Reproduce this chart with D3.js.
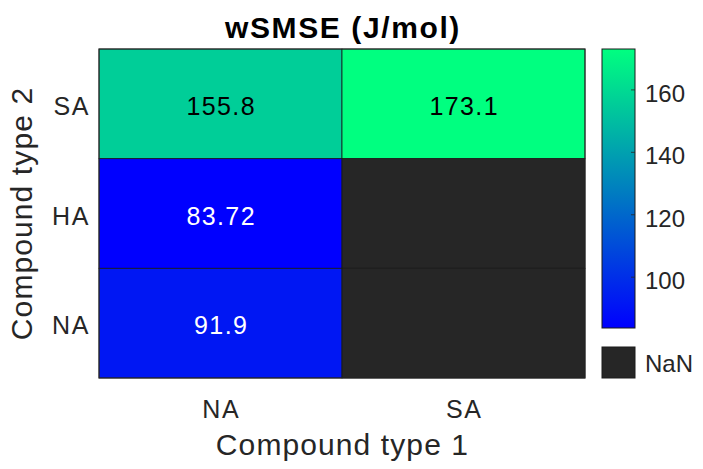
<!DOCTYPE html>
<html><head><meta charset="utf-8">
<script src="https://cdn.jsdelivr.net/npm/d3@7"></script>
<style>body{margin:0;background:#fff}svg{display:block}text{font-family:"Liberation Sans",Arial,sans-serif}</style>
</head><body><svg id="c" width="703" height="469"></svg>
<script>
const xCats = ["NA", "SA"];
const yCats = ["SA", "HA", "NA"];
// values[row][col], rows in yCats order, cols in xCats order
const valSA = [155.8, 173.1];
const valHA = [83.72, null];
const valNA = [91.9, null];
const labelSA = ["155.8", "173.1"];
const labelHA = ["83.72", ""];
const labelNA = ["91.9", ""];
const cbTicks = [100, 120, 140, 160];
const cMin = 83.72, cMax = 173.1;

const rows = [valSA, valHA, valNA];
const labels = [labelSA, labelHA, labelNA];
const svg = d3.select("#c");
const L = 99, R = 585, T = 49, B = 378;
const x = d3.scaleBand().domain(xCats).range([L, R]);
const y = d3.scaleBand().domain(yCats).range([T, B]);
const winter = t => `rgb(0,${Math.round(255*t)},${Math.round(255*(1-t/2))})`;
const cs = d3.scaleLinear().domain([cMin, cMax]).range([0, 1]).clamp(true);
const nanCol = "#262626";
const txt = "#262626";

const cells = [];
yCats.forEach((r, i) => xCats.forEach((c, j) => cells.push({r, c, v: rows[i][j], lab: labels[i][j]})));
svg.selectAll("rect.cell").data(cells).join("rect")
  .attr("x", d => x(d.c)).attr("y", d => y(d.r))
  .attr("width", x.bandwidth()).attr("height", y.bandwidth())
  .attr("fill", d => d.v == null ? nanCol : winter(cs(d.v)))
  .attr("stroke", "#1a1a1a").attr("stroke-width", 0.8);
svg.selectAll("text.cell").data(cells.filter(d => d.v != null)).join("text")
  .attr("x", d => x(d.c) + x.bandwidth()/2 + 0.7).attr("y", d => y(d.r) + y.bandwidth()/2 + 11)
  .attr("text-anchor", "middle").attr("font-size", 25).attr("letter-spacing", 1.4)
  .attr("fill", d => cs(d.v) > 0.5 ? "#000" : "#fff").text(d => d.lab);
svg.append("rect").attr("x", L).attr("y", T).attr("width", R-L).attr("height", B-T)
  .attr("fill", "none").attr("stroke", "#262626").attr("stroke-width", 1);

// axis tick labels
svg.selectAll("text.xt").data(xCats).join("text")
  .attr("x", d => x(d) + x.bandwidth()/2 + 0.8).attr("y", 418).attr("text-anchor", "middle")
  .attr("font-size", 25).attr("letter-spacing", 1.6).attr("fill", txt).text(d => d);
svg.selectAll("text.yt").data(yCats).join("text")
  .attr("x", 90).attr("y", d => y(d) + y.bandwidth()/2 + 11).attr("text-anchor", "end")
  .attr("font-size", 25).attr("letter-spacing", 1.6).attr("fill", txt).text(d => d);
svg.append("text").attr("x", (L+R)/2 + 0.5).attr("y", 455).attr("text-anchor", "middle")
  .attr("font-size", 30).attr("letter-spacing", 1.1).attr("fill", txt).text("Compound type 1");
svg.append("text").attr("transform", `translate(32,${(T+B)/2}) rotate(-90)`).attr("text-anchor", "middle")
  .attr("font-size", 30).attr("letter-spacing", 1.1).attr("fill", txt).text("Compound type 2");
svg.append("text").attr("x", (L+R)/2 + 1).attr("y", 38).attr("text-anchor", "middle")
  .attr("font-size", 30).attr("letter-spacing", 1.6).attr("font-weight", "bold").attr("fill", "#000").text("wSMSE (J/mol)");

// colorbar
const cbL = 602, cbW = 33, cbT = 49, cbB = 328;
const cy = d3.scaleLinear().domain([cMin, cMax]).range([cbB, cbT]);
const defs = svg.append("defs");
const g = defs.append("linearGradient").attr("id", "gw").attr("x1", 0).attr("y1", 1).attr("x2", 0).attr("y2", 0);
d3.range(0, 1.0001, 0.1).forEach(t => g.append("stop").attr("offset", t).attr("stop-color", winter(t)));
svg.append("rect").attr("x", cbL).attr("y", cbT).attr("width", cbW).attr("height", cbB - cbT)
  .attr("fill", "url(#gw)").attr("stroke", "#1a1a1a").attr("stroke-width", 1);
svg.selectAll("line.cbt").data(cbTicks).join("line")
  .attr("x1", cbL + cbW - 4).attr("x2", cbL + cbW).attr("y1", d => cy(d)).attr("y2", d => cy(d))
  .attr("stroke", "#262626").attr("stroke-width", 0.8);
svg.selectAll("text.cbt").data(cbTicks).join("text")
  .attr("x", 645).attr("y", d => cy(d) + 12).attr("font-size", 24).attr("fill", txt).text(d => d);
svg.append("rect").attr("x", cbL).attr("y", 347).attr("width", cbW).attr("height", 31)
  .attr("fill", nanCol).attr("stroke", "#1a1a1a").attr("stroke-width", 1);
svg.append("text").attr("x", 645).attr("y", 372).attr("font-size", 24).attr("fill", txt).text("NaN");
</script></body></html>
